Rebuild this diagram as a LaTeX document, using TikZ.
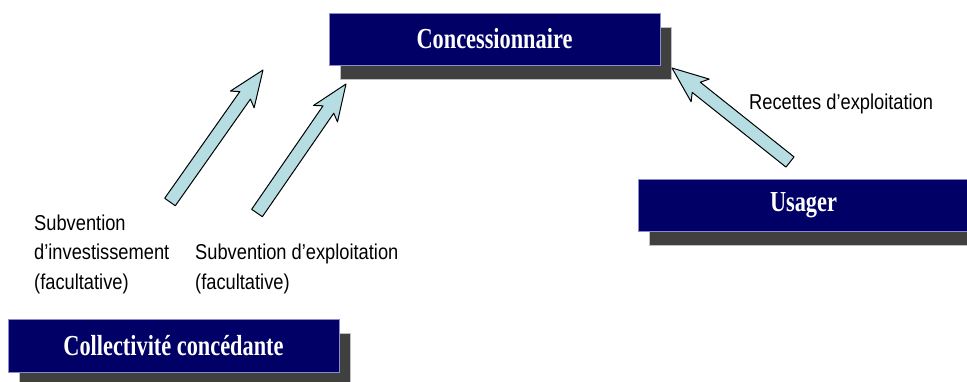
\documentclass[tikz,border=0pt]{standalone}
\usepackage{fontspec}
\setmainfont[FakeStretch=0.85]{Liberation Sans}
\newfontfamily\titlefont[FakeStretch=0.77]{Liberation Serif}
\usetikzlibrary{calc,shadows}
\definecolor{navy}{RGB}{0,0,102}
\definecolor{navyedge}{RGB}{140,140,200}
\definecolor{shadowgrey}{RGB}{64,64,64}
\definecolor{arrowfill}{RGB}{182,222,226}
\tikzset{
  titlebox/.style={fill=navy, draw=navyedge, line width=0.8pt, inner sep=0pt,
    minimum width=331pt, minimum height=52pt, text=white,
    font=\titlefont\bfseries\fontsize{29}{32}\selectfont,
    drop shadow={shadow xshift=11pt, shadow yshift=-14pt, fill=shadowgrey, draw=black!25, opacity=1}},
  blockarrowstyle/.style={fill=arrowfill, draw=black, line width=1pt, line join=round},
  lbltext/.style={font=\fontsize{21.5}{29.5}\selectfont, align=left, inner sep=0pt},
}
\newcommand\blockarrow[2]{%
  \path let \p1=($(#2)-(#1)$), \n1={atan2(\y1,\x1)}, \n2={veclen(\x1,\y1)} in
    \pgfextra{\xdef\baang{\n1}\xdef\balen{\n2}};
  \begin{scope}[shift={(#1)}, rotate=\baang]
    \draw[blockarrowstyle] (0pt,-6.5pt) -- ({\balen-31pt},-6.5pt) -- ({\balen-36pt},-14.5pt)
      -- (\balen,0pt) -- ({\balen-36pt},14.5pt) -- ({\balen-31pt},6.5pt) -- (0pt,6.5pt) -- cycle;
  \end{scope}}
\begin{document}
\begin{tikzpicture}[x=1pt,y=-1pt]
\useasboundingbox (0,0) rectangle (967,381);
\clip (0,0) rectangle (967,381);
\node[titlebox] (conc) at (494.5,39) {Concessionnaire};
\node[titlebox] (usager) at (803.5,205) {Usager};
\node[titlebox, minimum height=53pt] (coll) at (173.5,345.5) {Collectivité concédante};
\coordinate (a1tail) at (170,202);
\coordinate (a1tip) at (263,70);
\coordinate (a2tail) at (257,213);
\coordinate (a2tip) at (346,84);
\coordinate (a3tail) at (790,162);
\coordinate (a3tip) at (672,68);
\blockarrow{a1tail}{a1tip}
\blockarrow{a2tail}{a2tip}
\blockarrow{a3tail}{a3tip}
\node[lbltext, anchor=base west] (recettes) at (749,109) {Recettes d’exploitation};
\node[lbltext, anchor=base west] (subinv) at (34,289) {Subvention\\d’investissement\\(facultative)};
\node[lbltext, anchor=base west] (subexp) at (195,289) {Subvention d’exploitation\\(facultative)};
\end{tikzpicture}
\end{document}
